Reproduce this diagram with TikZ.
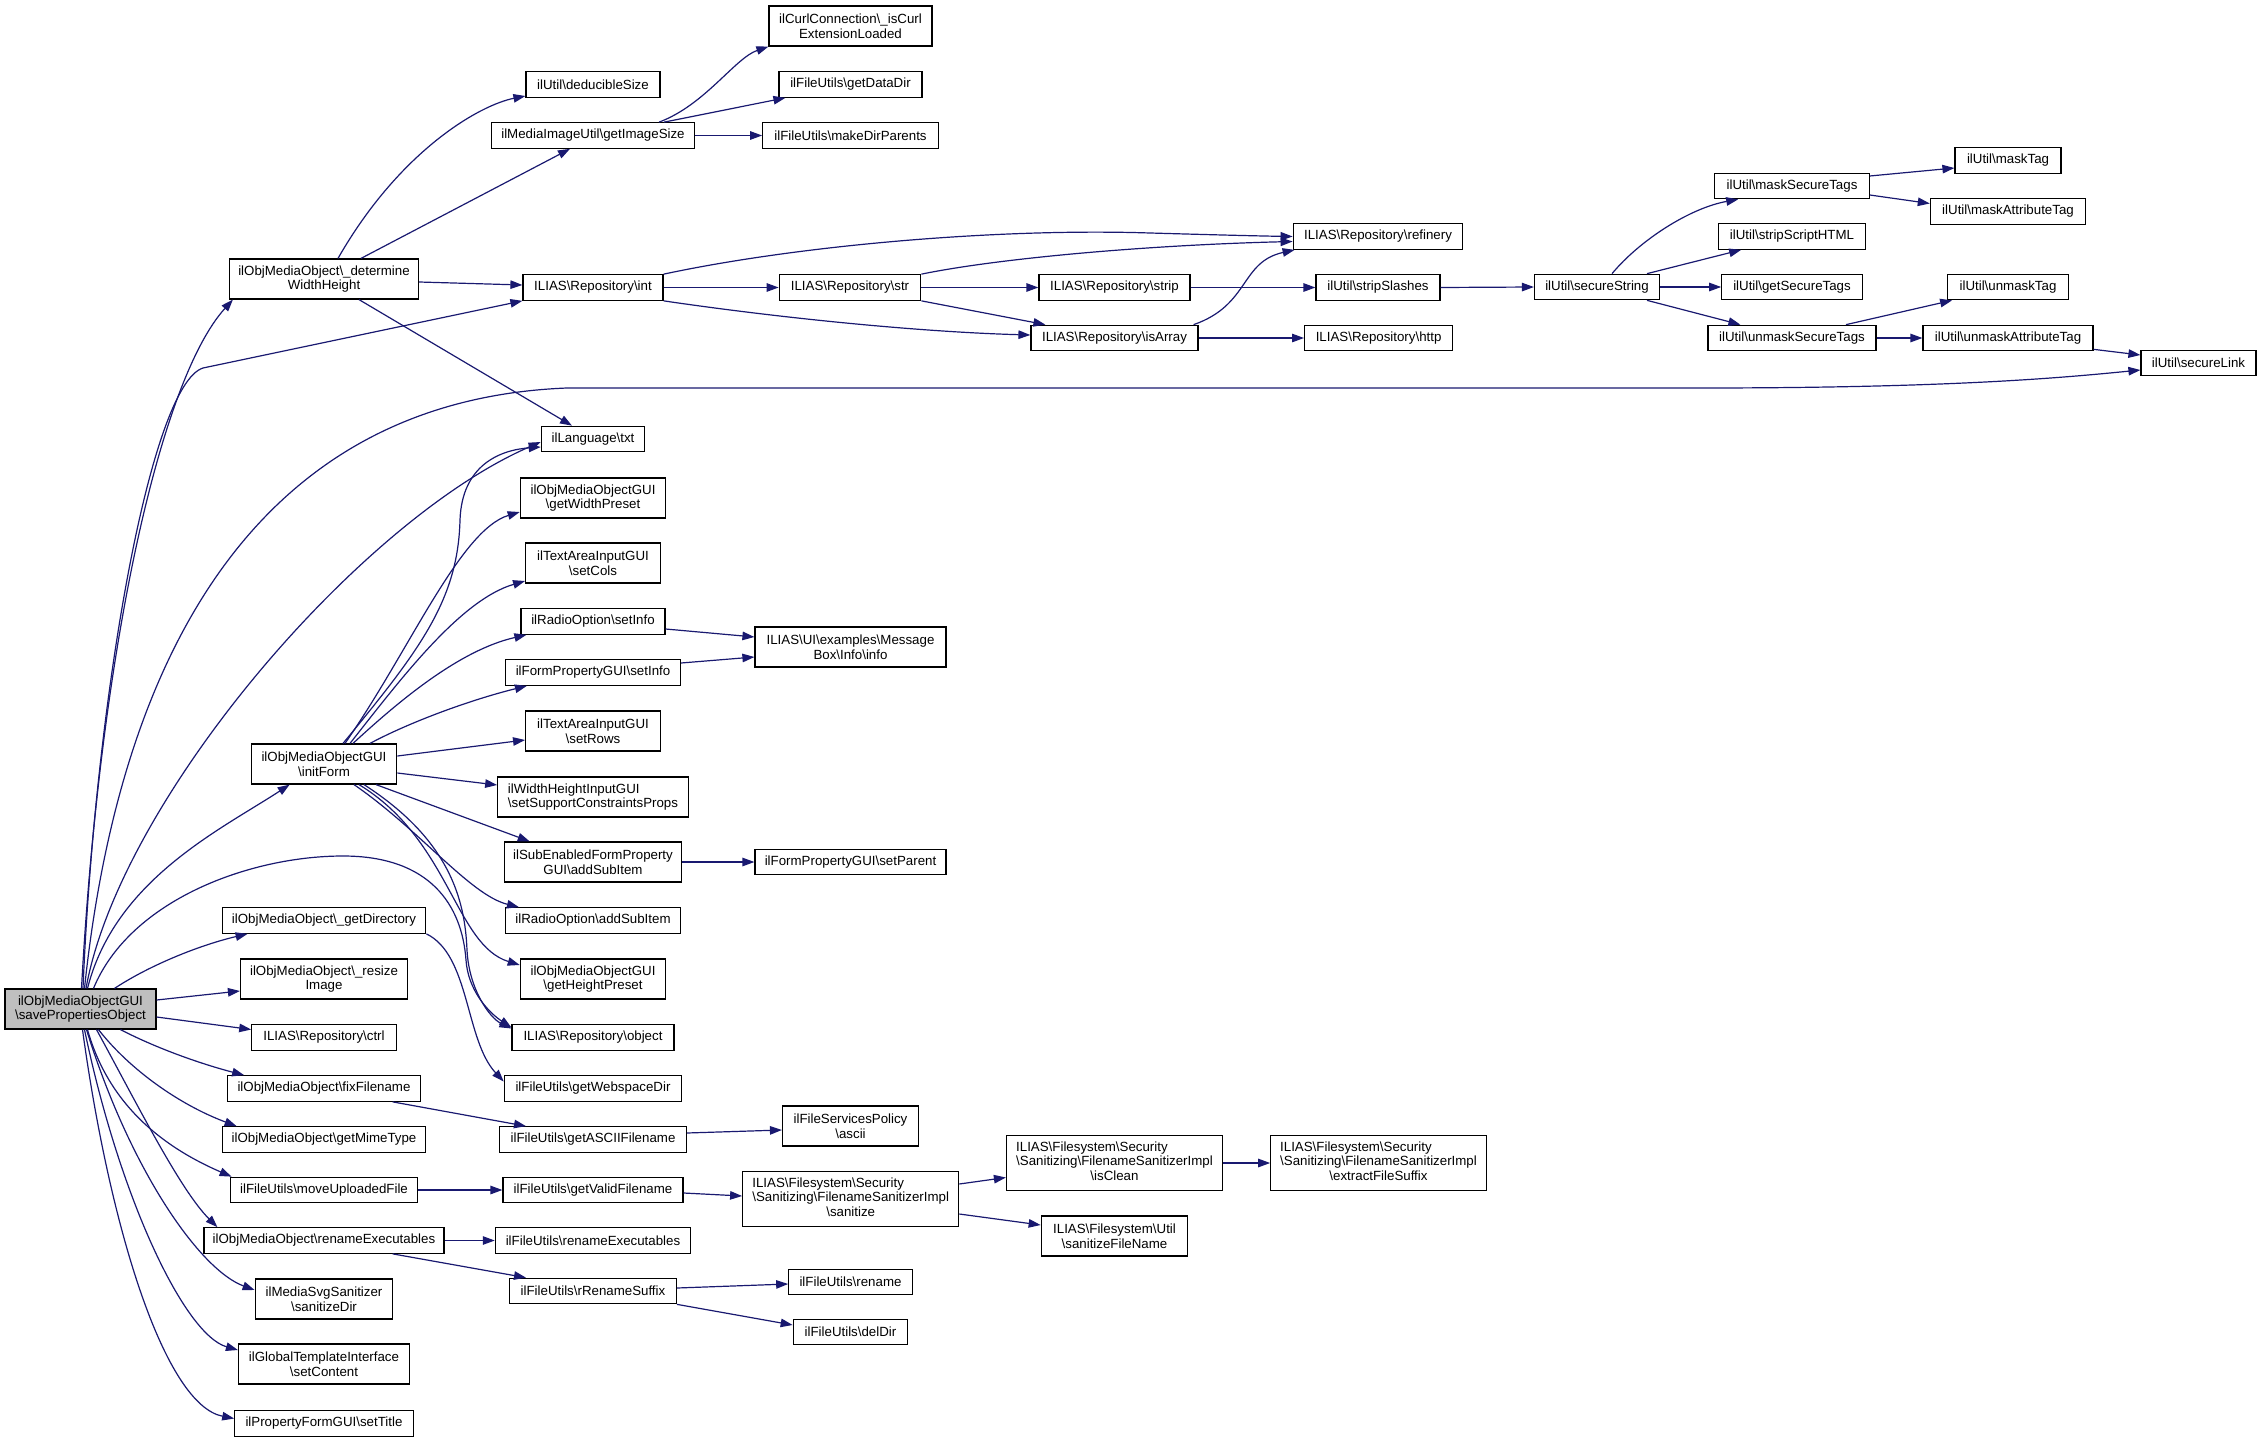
\documentclass[tikz,border=0pt]{standalone}
\usepackage{fontspec}
\setmainfont{Liberation Sans}
\usetikzlibrary{arrows.meta}
\definecolor{edgeblue}{RGB}{25,25,112}
\definecolor{rootgray}{RGB}{191,191,191}
\newcommand{\bsl}{\textbackslash}
\begin{document}
\begin{tikzpicture}[x=1pt, y=-1pt,
  fn/.style={draw=black, line width=1.2pt, fill=white, align=center,
    font=\fontsize{13.3}{14.5}\selectfont, inner xsep=2pt, inner ysep=1pt,
    minimum height=25.5pt},
  two/.style={minimum height=40pt},
  three/.style={minimum height=55pt},
  call/.style={draw=edgeblue, line width=1.2pt,
    -{Triangle[length=12pt,width=8.5pt]}, fill=none}]

\useasboundingbox (0,0) rectangle (2261,1442);

% the caller
\node[fn, two, fill=rootgray, minimum width=151pt] (sp) at (80.5,1009) {ilObjMediaObjectGUI\\\bsl savePropertiesObject};

% called directly
\node[fn, two, minimum width=189pt] (det) at (324,279) {ilObjMediaObject\bsl\_determine\\WidthHeight};
\node[fn, two, minimum width=145.5pt] (initform) at (324,764) {ilObjMediaObjectGUI\\\bsl initForm};
\node[fn, minimum width=203.6pt] (getdir) at (324,920.5) {ilObjMediaObject\bsl\_getDirectory};
\node[fn, two, minimum width=167pt] (resize) at (324,979) {ilObjMediaObject\bsl\_resize\\Image};
\node[fn, minimum width=144.4pt] (ctrl) at (324,1037.5) {ILIAS\bsl Repository\bsl ctrl};
\node[fn, minimum width=192.5pt] (fixname) at (324,1088.5) {ilObjMediaObject\bsl fixFilename};
\node[fn, minimum width=203.6pt] (mime) at (324,1139.5) {ilObjMediaObject\bsl getMimeType};
\node[fn, minimum width=187.6pt] (moveup) at (324,1190) {ilFileUtils\bsl moveUploadedFile};
\node[fn, minimum width=240pt] (renexec) at (324,1240.5) {ilObjMediaObject\bsl renameExecutables};
\node[fn, two, minimum width=137.6pt] (svgdir) at (324,1299) {ilMediaSvgSanitizer\\\bsl sanitizeDir};
\node[fn, two, minimum width=171pt] (setcontent) at (324,1364) {ilGlobalTemplateInterface\\\bsl setContent};
\node[fn, minimum width=178.4pt] (settitle) at (324,1423.5) {ilPropertyFormGUI\bsl setTitle};

% second level
\node[fn, minimum width=134pt] (deduce) at (593,84.5) {ilUtil\bsl deducibleSize};
\node[fn, minimum width=202.6pt] (imgsize) at (593,135.5) {ilMediaImageUtil\bsl getImageSize};
\node[fn, minimum width=140pt] (int) at (593,287.5) {ILIAS\bsl Repository\bsl int};
\node[fn, minimum width=103.3pt] (txt) at (593,439) {ilLanguage\bsl txt};
\node[fn, two, minimum width=145.4pt] (widthpre) at (593,498) {ilObjMediaObjectGUI\\\bsl getWidthPreset};
\node[fn, two, minimum width=134.7pt] (setcols) at (593,563) {ilTextAreaInputGUI\\\bsl setCols};
\node[fn, minimum width=144pt] (rosetinfo) at (593,621.5) {ilRadioOption\bsl setInfo};
\node[fn, minimum width=175pt] (fpsetinfo) at (593,672.5) {ilFormPropertyGUI\bsl setInfo};
\node[fn, two, minimum width=134.7pt] (setrows) at (593,731) {ilTextAreaInputGUI\\\bsl setRows};
\node[fn, two, align=left, minimum width=190.5pt] (whprops) at (593,797) {ilWidthHeightInputGUI\\\bsl setSupportConstraintsProps};
\node[fn, two, minimum width=177.4pt] (subadd) at (593,862) {ilSubEnabledFormProperty\\GUI\bsl addSubItem};
\node[fn, minimum width=175pt] (roadd) at (593,920.5) {ilRadioOption\bsl addSubItem};
\node[fn, two, minimum width=145.4pt] (heightpre) at (593,979) {ilObjMediaObjectGUI\\\bsl getHeightPreset};
\node[fn, minimum width=162pt] (object) at (593,1037.5) {ILIAS\bsl Repository\bsl object};
\node[fn, minimum width=177.4pt] (webdir) at (593,1088.5) {ilFileUtils\bsl getWebspaceDir};
\node[fn, minimum width=186.4pt] (asciiname) at (593,1139.5) {ilFileUtils\bsl getASCIIFilename};
\node[fn, minimum width=180pt] (validname) at (593,1190) {ilFileUtils\bsl getValidFilename};
\node[fn, minimum width=195.3pt] (furenexec) at (593,1240.5) {ilFileUtils\bsl renameExecutables};
\node[fn, minimum width=166.7pt] (rsuffix) at (593,1291) {ilFileUtils\bsl rRenameSuffix};

% third level
\node[fn, two, minimum width=163pt] (curl) at (850.5,26) {ilCurlConnection\bsl\_isCurl\\ExtensionLoaded};
\node[fn, minimum width=143pt] (datadir) at (850.5,84.5) {ilFileUtils\bsl getDataDir};
\node[fn, minimum width=175.5pt] (mkdir) at (850.5,135.5) {ilFileUtils\bsl makeDirParents};
\node[fn, minimum width=141.5pt] (str) at (850,287.5) {ILIAS\bsl Repository\bsl str};
\node[fn, two, minimum width=191pt] (msgbox) at (850.5,647) {ILIAS\bsl UI\bsl examples\bsl Message\\Box\bsl Info\bsl info};
\node[fn, minimum width=191pt] (setparent) at (850.5,862) {ilFormPropertyGUI\bsl setParent};
\node[fn, two, minimum width=136pt] (policy) at (850.5,1126) {ilFileServicesPolicy\\\bsl ascii};
\node[fn, three, minimum width=216pt] (sanitize) at (850.7,1199) {\begin{tabular}{@{}l@{}}ILIAS\bsl Filesystem\bsl Security\\\bsl Sanitizing\bsl FilenameSanitizerImpl\\\multicolumn{1}{@{}c@{}}{\bsl sanitize}\end{tabular}};
\node[fn, minimum width=123.5pt] (rename) at (850.5,1282) {ilFileUtils\bsl rename};
\node[fn, minimum width=114.5pt] (deldir) at (850.5,1332) {ilFileUtils\bsl delDir};

% fourth level and beyond
\node[fn, minimum width=151pt] (strip) at (1114.5,287.5) {ILIAS\bsl Repository\bsl strip};
\node[fn, minimum width=167pt] (isarray) at (1114.5,338) {ILIAS\bsl Repository\bsl isArray};
\node[fn, three, minimum width=216pt] (isclean) at (1114.5,1163) {\begin{tabular}{@{}l@{}}ILIAS\bsl Filesystem\bsl Security\\\bsl Sanitizing\bsl FilenameSanitizerImpl\\\multicolumn{1}{@{}c@{}}{\bsl isClean}\end{tabular}};
\node[fn, two, minimum width=146.5pt] (sanfile) at (1114.5,1236) {ILIAS\bsl Filesystem\bsl Util\\\bsl sanitizeFileName};
\node[fn, minimum width=169.6pt] (refinery) at (1378,236.5) {ILIAS\bsl Repository\bsl refinery};
\node[fn, minimum width=124pt] (stripslash) at (1378,287.5) {ilUtil\bsl stripSlashes};
\node[fn, minimum width=148pt] (http) at (1378.6,338) {ILIAS\bsl Repository\bsl http};
\node[fn, three, minimum width=215.5pt] (extract) at (1378.5,1163) {\begin{tabular}{@{}l@{}}ILIAS\bsl Filesystem\bsl Security\\\bsl Sanitizing\bsl FilenameSanitizerImpl\\\multicolumn{1}{@{}c@{}}{\bsl extractFileSuffix}\end{tabular}};
\node[fn, minimum width=125pt] (securestr) at (1597,287) {ilUtil\bsl secureString};
\node[fn, minimum width=154.4pt] (masksec) at (1792,186) {ilUtil\bsl maskSecureTags};
\node[fn, minimum width=146.5pt] (stripscript) at (1792,236.5) {ilUtil\bsl stripScriptHTML};
\node[fn, minimum width=140.5pt] (getsec) at (1792,287) {ilUtil\bsl getSecureTags};
\node[fn, minimum width=168pt] (unmasksec) at (1792,338) {ilUtil\bsl unmaskSecureTags};
\node[fn, minimum width=106pt] (masktag) at (2008,160.5) {ilUtil\bsl maskTag};
\node[fn, minimum width=155.3pt] (maskattr) at (2008,211.5) {ilUtil\bsl maskAttributeTag};
\node[fn, minimum width=120.6pt] (unmasktag) at (2008,287) {ilUtil\bsl unmaskTag};
\node[fn, minimum width=170pt] (unmaskattr) at (2008,338) {ilUtil\bsl unmaskAttributeTag};
\node[fn, minimum width=115pt] (securelink) at (2198.5,363) {ilUtil\bsl secureLink};

% calls of savePropertiesObject
\draw[call] ([xshift=1pt]sp.north) .. controls (100,650) and (160,380) .. ([xshift=4pt]det.south west);
\draw[call] ([xshift=2.5pt]sp.north) .. controls (95,700) and (150,385) .. (203,368) -- (int.south west);
\draw[call] ([xshift=4pt]sp.north) .. controls (120,650) and (260,400) .. (567,388) -- (1700,388) .. controls (1950,388) and (2060,378) .. ([yshift=-7pt]securelink.west);
\draw[call] ([xshift=5.5pt]sp.north) .. controls (120,800) and (360,520) .. ([yshift=-3pt]txt.west);
\draw[call] ([xshift=7pt]sp.north) .. controls (115,880) and (220,830) .. ([xshift=39pt]initform.south west);
\draw[call] ([xshift=13pt]sp.north) .. controls (130,900) and (250,856) .. (343,856) .. controls (430,856) and (462,905) .. (466,960) .. controls (468,990) and (488,1012) .. ([yshift=10pt]object.west);
\draw[call] ([xshift=34pt]sp.north) .. controls (150,965) and (200,945) .. ([xshift=26pt]getdir.south west);
\draw[call] ([yshift=9pt]sp.east) -- ([yshift=-12pt]resize.west);
\draw[call] ([yshift=-8pt]sp.east) -- ([yshift=8pt]ctrl.west);
\draw[call] ([xshift=40pt]sp.south) .. controls (160,1050) and (205,1065) .. ([xshift=17pt]fixname.north west);
\draw[call] ([xshift=18pt]sp.south) .. controls (130,1070) and (180,1105) .. ([xshift=15pt]mime.north west);
\draw[call] ([xshift=7pt]sp.south) .. controls (110,1110) and (170,1150) .. ([xshift=2pt]moveup.north west);
\draw[call] ([xshift=16pt]sp.south) .. controls (135,1100) and (180,1190) .. ([xshift=14pt]renexec.north west);
\draw[call] ([xshift=6pt]sp.south) .. controls (130,1170) and (200,1270) .. ([yshift=9pt]svgdir.west);
\draw[call] ([xshift=4pt]sp.south) .. controls (120,1200) and (185,1335) .. ([yshift=14pt]setcontent.west);
\draw[call] ([xshift=2pt]sp.south) .. controls (110,1230) and (165,1405) .. ([yshift=5pt]settitle.west);

% calls of initForm
\draw[call] ([xshift=19pt]initform.north) .. controls (420,650) and (458,600) .. (460,520) .. controls (462,465) and (500,450) .. ([yshift=-8pt]txt.west);
\draw[call] ([xshift=21pt]initform.north) .. controls (410,650) and (460,530) .. ([yshift=-14pt]widthpre.west);
\draw[call] ([xshift=26pt]initform.north) .. controls (400,680) and (460,600) .. ([yshift=-18pt]setcols.west);
\draw[call] ([xshift=29pt]initform.north) .. controls (400,700) and (460,650) .. ([xshift=6pt]rosetinfo.south west);
\draw[call] ([xshift=46pt]initform.north) .. controls (410,722) and (470,700) .. ([xshift=22pt]fpsetinfo.south west);
\draw[call] ([yshift=8pt]initform.east) -- ([yshift=-9pt]setrows.west);
\draw[call] ([yshift=-9pt]initform.east) -- ([yshift=12pt]whprops.west);
\draw[call] ([xshift=52pt]initform.south) -- ([xshift=26pt]subadd.north west);
\draw[call] ([xshift=30pt]initform.south) .. controls (420,830) and (470,895) .. ([xshift=14pt]roadd.north west);
\draw[call] ([xshift=35pt]initform.south) .. controls (450,840) and (455,945) .. ([yshift=14pt]heightpre.west);
\draw[call] ([xshift=40pt]initform.south) .. controls (450,840) and (465,900) .. (467,950) .. controls (469,990) and (490,1018) .. ([yshift=9pt]object.west);

% calls of determineWidthHeight and getImageSize
\draw[call] ([xshift=14pt]det.north) .. controls (400,150) and (480,105) .. ([yshift=-11.5pt]deduce.west);
\draw[call] ([xshift=37pt]det.north) -- ([xshift=-23pt]imgsize.south);
\draw[call] ([yshift=-3pt]det.east) -- ([yshift=2.5pt]int.west);
\draw[call] ([xshift=35pt]det.south) -- ([xshift=-21pt]txt.north);
\draw[call] ([xshift=66pt]imgsize.north) .. controls (705,105) and (735,58) .. (curl.south west);
\draw[call] ([xshift=71pt]imgsize.north) -- ([xshift=7pt]datadir.south west);
\draw[call] (imgsize.east) -- (mkdir.west);

% repository helpers
\draw[call] (int.north east) .. controls (800,245) and (1000,228) .. (1150,233) .. controls (1220,235) and (1260,236) .. (refinery.west);
\draw[call] (int.east) -- (str.west);
\draw[call] (int.south east) .. controls (780,318) and (920,332) .. ([yshift=3pt]isarray.west);
\draw[call] (str.north east) .. controls (1000,258) and (1150,245) .. ([yshift=-5pt]refinery.west);
\draw[call] (str.east) -- (strip.west);
\draw[call] (str.south east) -- ([xshift=15pt]isarray.north west);
\draw[call] ([xshift=-5pt]isarray.north east) .. controls (1250,305) and (1240,262) .. ([xshift=2pt]refinery.south west);
\draw[call] (isarray.east) -- (http.west);
\draw[call] (strip.east) -- (stripslash.west);
\draw[call] (stripslash.east) -- (securestr.west);

% secureString and its tags
\draw[call] ([xshift=15pt]securestr.north) .. controls (1640,240) and (1690,208) .. ([xshift=24pt]masksec.south west);
\draw[call] ([xshift=50pt]securestr.north) -- ([xshift=23pt]stripscript.south west);
\draw[call] (securestr.east) -- (getsec.west);
\draw[call] ([xshift=50pt]securestr.south) -- ([xshift=33pt]unmasksec.north west);
\draw[call] ([yshift=10pt]masksec.east) -- ([yshift=-7.5pt]masktag.west);
\draw[call] ([yshift=-9pt]masksec.east) -- ([yshift=8pt]maskattr.west);
\draw[call] ([xshift=54pt]unmasksec.north) -- ([xshift=5pt]unmasktag.south west);
\draw[call] (unmasksec.east) -- (unmaskattr.west);
\draw[call] ([yshift=2pt]unmaskattr.south east) -- ([yshift=8pt]securelink.west);

% the rest
\draw[call] ([yshift=-7.5pt]rosetinfo.east) -- ([yshift=10pt]msgbox.west);
\draw[call] ([yshift=9.5pt]fpsetinfo.east) -- ([yshift=-10pt]msgbox.west);
\draw[call] (subadd.east) -- (setparent.west);
\draw[call] (getdir.south east) .. controls (470,955) and (465,1040) .. ([yshift=7pt]webdir.west);
\draw[call] ([xshift=68.6pt]fixname.south) -- ([xshift=-67pt]asciiname.north);
\draw[call] ([yshift=6.5pt]asciiname.east) -- ([yshift=-4pt]policy.west);
\draw[call] (moveup.east) -- (validname.west);
\draw[call] ([yshift=-3pt]validname.east) -- ([yshift=3pt]sanitize.west);
\draw[call] (renexec.east) -- (furenexec.west);
\draw[call] ([xshift=68.6pt]renexec.south) -- ([xshift=-67pt]rsuffix.north);
\draw[call] ([yshift=15pt]sanitize.east) -- ([yshift=-14.5pt]isclean.west);
\draw[call] ([yshift=-15pt]sanitize.east) -- ([yshift=11pt]sanfile.west);
\draw[call] (isclean.east) -- (extract.west);
\draw[call] ([yshift=3pt]rsuffix.east) -- ([yshift=-2pt]rename.west);
\draw[call] (rsuffix.south east) -- ([yshift=7pt]deldir.west);

\end{tikzpicture}
\end{document}
